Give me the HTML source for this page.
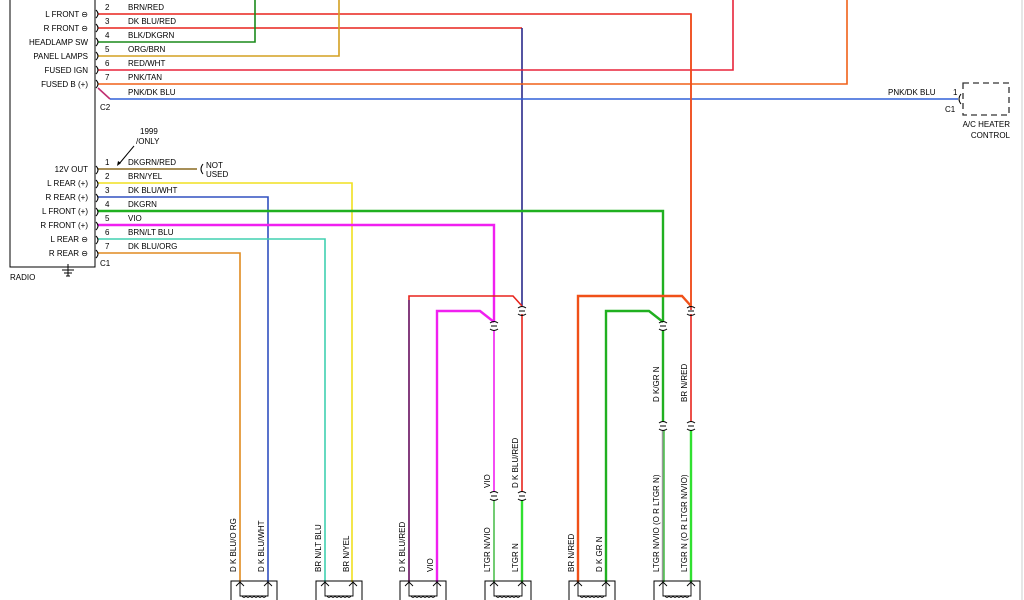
<!DOCTYPE html>
<html><head><meta charset="utf-8">
<style>
html,body{margin:0;padding:0;background:#fff;width:1024px;height:600px;overflow:hidden}
svg{display:block}
text{font-family:"Liberation Sans",sans-serif;font-size:8px;fill:#000}
.w{fill:none;stroke-width:1.6}
.t{fill:none;stroke-width:2.4}
.conn{fill:none;stroke:#000;stroke-width:1}
</style></head>
<body>
<svg width="1024" height="600" viewBox="0 0 1024 600">
<line x1="1022" y1="0" x2="1022" y2="600" stroke="#ccc" stroke-width="1"/>
<polyline points="10,0 10,267 95,267 95,0" fill="none" stroke="#000" stroke-width="1"/>
<text x="10" y="280">RADIO</text>
<g stroke="#000" stroke-width="1">
<line x1="68" y1="264" x2="68" y2="276"/><line x1="62" y1="270" x2="74" y2="270"/><line x1="64" y1="273" x2="72" y2="273"/><line x1="66" y1="276" x2="70" y2="276"/>
</g>

<g>
<polyline class="w" stroke="#e8241d" points="98,14 691,14 691,310"/>
<polyline class="w" stroke="#e8241d" points="98,28 522,28"/>
<line class="w" stroke="#2a2a8a" x1="522" y1="28" x2="522" y2="306"/>
<polyline class="w" stroke="#1a8a1a" points="98,42 255,42 255,0"/>
<polyline class="w" stroke="#d4a020" points="98,56 339,56 339,0"/>
<polyline class="w" stroke="#e8243a" points="98,70 733,70 733,0"/>
<polyline class="w" stroke="#f06018" points="98,84 847,84 847,0"/>
<polyline class="w" stroke="#c03070" points="98,88 110,99"/>
<line class="w" stroke="#3060d8" x1="110" y1="99" x2="958" y2="99"/>
</g>
<line x1="691" y1="14" x2="691" y2="306" stroke="#f05018" stroke-width="1.6"/>

<g text-anchor="end">
<text x="88" y="17">L FRONT ⊖</text>
<text x="88" y="31">R FRONT ⊖</text>
<text x="88" y="45">HEADLAMP SW</text>
<text x="88" y="59">PANEL LAMPS</text>
<text x="88" y="73">FUSED IGN</text>
<text x="88" y="87">FUSED B (+)</text>
</g>
<g>
<text x="105" y="10">2</text><text x="105" y="24">3</text><text x="105" y="38">4</text><text x="105" y="52">5</text><text x="105" y="66">6</text><text x="105" y="80">7</text>
</g>
<g>
<text x="128" y="10">BRN/RED</text><text x="128" y="24">DK BLU/RED</text><text x="128" y="38">BLK/DKGRN</text><text x="128" y="52">ORG/BRN</text><text x="128" y="66">RED/WHT</text><text x="128" y="80">PNK/TAN</text><text x="128" y="95">PNK/DK BLU</text>
</g>
<text x="100" y="110">C2</text>
<g class="conn">
<path d="M96,10 q4,4 0,8"/><path d="M96,24 q4,4 0,8"/><path d="M96,38 q4,4 0,8"/><path d="M96,52 q4,4 0,8"/><path d="M96,66 q4,4 0,8"/><path d="M96,80 q4,4 0,8"/>
</g>

<rect x="963" y="83" width="46" height="32" fill="none" stroke="#333" stroke-width="1.3" stroke-dasharray="6,4"/>
<path d="M961,94 q-4,5 0,10" class="conn"/>
<text x="888" y="95">PNK/DK BLU</text>
<text x="953" y="95">1</text>
<text x="945" y="112">C1</text>
<text x="1010" y="127" text-anchor="end">A/C HEATER</text>
<text x="1010" y="138" text-anchor="end">CONTROL</text>

<g>
<line class="w" stroke="#8a6a20" x1="98" y1="169" x2="197" y2="169"/>
<polyline class="w" stroke="#f0e020" points="98,183 352,183 352,582"/>
<polyline class="w" stroke="#3050c0" points="98,197 268,197 268,582"/>
<polyline class="t" stroke="#20b020" points="98,211 663,211 663,322"/>
<polyline class="t" stroke="#f020f0" points="98,225 494,225 494,322"/>
<polyline class="w" stroke="#40d0b0" points="98,239 325,239 325,582"/>
<polyline class="w" stroke="#e08a20" points="98,253 240,253 240,582"/>
</g>
<g text-anchor="end">
<text x="88" y="172">12V OUT</text><text x="88" y="186">L REAR (+)</text><text x="88" y="200">R REAR (+)</text><text x="88" y="214">L FRONT (+)</text><text x="88" y="228">R FRONT (+)</text><text x="88" y="242">L REAR ⊖</text><text x="88" y="256">R REAR ⊖</text>
</g>
<g>
<text x="105" y="165">1</text><text x="105" y="179">2</text><text x="105" y="193">3</text><text x="105" y="207">4</text><text x="105" y="221">5</text><text x="105" y="235">6</text><text x="105" y="249">7</text>
</g>
<g>
<text x="128" y="165">DKGRN/RED</text><text x="128" y="179">BRN/YEL</text><text x="128" y="193">DK BLU/WHT</text><text x="128" y="207">DKGRN</text><text x="128" y="221">VIO</text><text x="128" y="235">BRN/LT BLU</text><text x="128" y="249">DK BLU/ORG</text>
</g>
<text x="100" y="266">C1</text>
<g class="conn">
<path d="M96,166 q4,4 0,8"/><path d="M96,180 q4,4 0,8"/><path d="M96,194 q4,4 0,8"/><path d="M96,208 q4,4 0,8"/><path d="M96,222 q4,4 0,8"/><path d="M96,236 q4,4 0,8"/><path d="M96,250 q4,4 0,8"/>
</g>
<path d="M203,164 q-4,5 0,10" class="conn"/>
<text x="206" y="168">NOT</text>
<text x="206" y="177">USED</text>
<text x="140" y="134">1999</text>
<text x="136" y="144">/ONLY</text>
<line x1="134" y1="146" x2="119" y2="164" stroke="#000" stroke-width="1"/>
<path d="M117,166 l1,-5 l3,2 z" fill="#000"/>

<g>
<polyline class="w" stroke="#e8241d" points="409,582 409,296 513,296 522,306"/>
<line class="w" stroke="#6a3080" x1="409" y1="300" x2="409" y2="582"/>
<polyline class="t" stroke="#f020f0" points="437,582 437,311 480,311 494,322"/>
<polyline class="w" stroke="#e8241d" points="522,314 522,492"/>
<polyline class="w" stroke="#f020f0" points="494,330 494,492"/>
<line class="w" stroke="#50c050" x1="494" y1="500" x2="494" y2="582"/>
<line class="t" stroke="#30e030" x1="522" y1="500" x2="522" y2="582"/>
<polyline class="t" stroke="#f05018" points="578,582 578,296 682,296 691,306"/>
<polyline class="t" stroke="#20b020" points="606,582 606,311 649,311 663,322"/>
<line class="t" stroke="#20b020" x1="663" y1="330" x2="663" y2="422"/>
<line class="w" stroke="#e8241d" x1="691" y1="314" x2="691" y2="422"/>
<line class="t" stroke="#999" x1="663" y1="430" x2="663" y2="582"/>
<line class="w" stroke="#50c050" x1="664" y1="430" x2="664" y2="582"/>
<line class="t" stroke="#30e030" x1="691" y1="430" x2="691" y2="582"/>
</g>

<g class="conn">
<g transform="translate(522,312)"><path d="M-4,-4 q4,-3 8,0 M-4,2 q4,3 8,0"/><line x1="-3" y1="-1" x2="3" y2="-1"/></g>
<g transform="translate(691,312)"><path d="M-4,-4 q4,-3 8,0 M-4,2 q4,3 8,0"/><line x1="-3" y1="-1" x2="3" y2="-1"/></g>
<g transform="translate(494,327)"><path d="M-4,-4 q4,-3 8,0 M-4,2 q4,3 8,0"/><line x1="-3" y1="-1" x2="3" y2="-1"/></g>
<g transform="translate(663,327)"><path d="M-4,-4 q4,-3 8,0 M-4,2 q4,3 8,0"/><line x1="-3" y1="-1" x2="3" y2="-1"/></g>
<g transform="translate(663,427)"><path d="M-4,-4 q4,-3 8,0 M-4,2 q4,3 8,0"/><line x1="-3" y1="-1" x2="3" y2="-1"/></g>
<g transform="translate(691,427)"><path d="M-4,-4 q4,-3 8,0 M-4,2 q4,3 8,0"/><line x1="-3" y1="-1" x2="3" y2="-1"/></g>
<g transform="translate(494,497)"><path d="M-4,-4 q4,-3 8,0 M-4,2 q4,3 8,0"/><line x1="-3" y1="-1" x2="3" y2="-1"/></g>
<g transform="translate(522,497)"><path d="M-4,-4 q4,-3 8,0 M-4,2 q4,3 8,0"/><line x1="-3" y1="-1" x2="3" y2="-1"/></g>
</g>

<g>
<g transform="translate(240,0)">
<polyline points="-9,600 -9,581 37,581 37,600" fill="none" stroke="#000"/><path d="M-4,586 l4,-4 l4,4 M24,586 l4,-4 l4,4 M0,582 v14 h28 v-14" fill="none" stroke="#000" stroke-width="0.9"/><path d="M2,596 q2,3 4,0 q2,3 4,0 q2,3 4,0 q2,3 4,0 q2,3 4,0 q2,3 4,0" fill="none" stroke="#000" stroke-width="0.8"/></g>
<g transform="translate(325,0)">
<polyline points="-9,600 -9,581 37,581 37,600" fill="none" stroke="#000"/><path d="M-4,586 l4,-4 l4,4 M24,586 l4,-4 l4,4 M0,582 v14 h28 v-14" fill="none" stroke="#000" stroke-width="0.9"/><path d="M2,596 q2,3 4,0 q2,3 4,0 q2,3 4,0 q2,3 4,0 q2,3 4,0 q2,3 4,0" fill="none" stroke="#000" stroke-width="0.8"/></g>
<g transform="translate(409,0)">
<polyline points="-9,600 -9,581 37,581 37,600" fill="none" stroke="#000"/><path d="M-4,586 l4,-4 l4,4 M24,586 l4,-4 l4,4 M0,582 v14 h28 v-14" fill="none" stroke="#000" stroke-width="0.9"/><path d="M2,596 q2,3 4,0 q2,3 4,0 q2,3 4,0 q2,3 4,0 q2,3 4,0 q2,3 4,0" fill="none" stroke="#000" stroke-width="0.8"/></g>
<g transform="translate(494,0)">
<polyline points="-9,600 -9,581 37,581 37,600" fill="none" stroke="#000"/><path d="M-4,586 l4,-4 l4,4 M24,586 l4,-4 l4,4 M0,582 v14 h28 v-14" fill="none" stroke="#000" stroke-width="0.9"/><path d="M2,596 q2,3 4,0 q2,3 4,0 q2,3 4,0 q2,3 4,0 q2,3 4,0 q2,3 4,0" fill="none" stroke="#000" stroke-width="0.8"/></g>
<g transform="translate(578,0)">
<polyline points="-9,600 -9,581 37,581 37,600" fill="none" stroke="#000"/><path d="M-4,586 l4,-4 l4,4 M24,586 l4,-4 l4,4 M0,582 v14 h28 v-14" fill="none" stroke="#000" stroke-width="0.9"/><path d="M2,596 q2,3 4,0 q2,3 4,0 q2,3 4,0 q2,3 4,0 q2,3 4,0 q2,3 4,0" fill="none" stroke="#000" stroke-width="0.8"/></g>
<g transform="translate(663,0)">
<polyline points="-9,600 -9,581 37,581 37,600" fill="none" stroke="#000"/><path d="M-4,586 l4,-4 l4,4 M24,586 l4,-4 l4,4 M0,582 v14 h28 v-14" fill="none" stroke="#000" stroke-width="0.9"/><path d="M2,596 q2,3 4,0 q2,3 4,0 q2,3 4,0 q2,3 4,0 q2,3 4,0 q2,3 4,0" fill="none" stroke="#000" stroke-width="0.8"/></g>
</g>

<g style="font-size:7px">
<text transform="translate(236,572) rotate(-90)">D K BLU/O RG</text>
<text transform="translate(264,572) rotate(-90)">D K BLU/WHT</text>
<text transform="translate(321,572) rotate(-90)">BR N/LT BLU</text>
<text transform="translate(349,572) rotate(-90)">BR N/YEL</text>
<text transform="translate(405,572) rotate(-90)">D K BLU/RED</text>
<text transform="translate(433,572) rotate(-90)">VIO</text>
<text transform="translate(490,572) rotate(-90)">LTGR N/VIO</text>
<text transform="translate(518,572) rotate(-90)">LTGR N</text>
<text transform="translate(574,572) rotate(-90)">BR N/RED</text>
<text transform="translate(602,572) rotate(-90)">D K GR N</text>
<text transform="translate(659,572) rotate(-90)">LTGR N/VIO (O R LTGR N)</text>
<text transform="translate(687,572) rotate(-90)">LTGR N (O R LTGR N/VIO)</text>
<text transform="translate(490,488) rotate(-90)">VIO</text>
<text transform="translate(518,488) rotate(-90)">D K BLU/RED</text>
<text transform="translate(659,402) rotate(-90)">D K/GR N</text>
<text transform="translate(687,402) rotate(-90)">BR N/RED</text>
</g>
</svg>
</body></html>
